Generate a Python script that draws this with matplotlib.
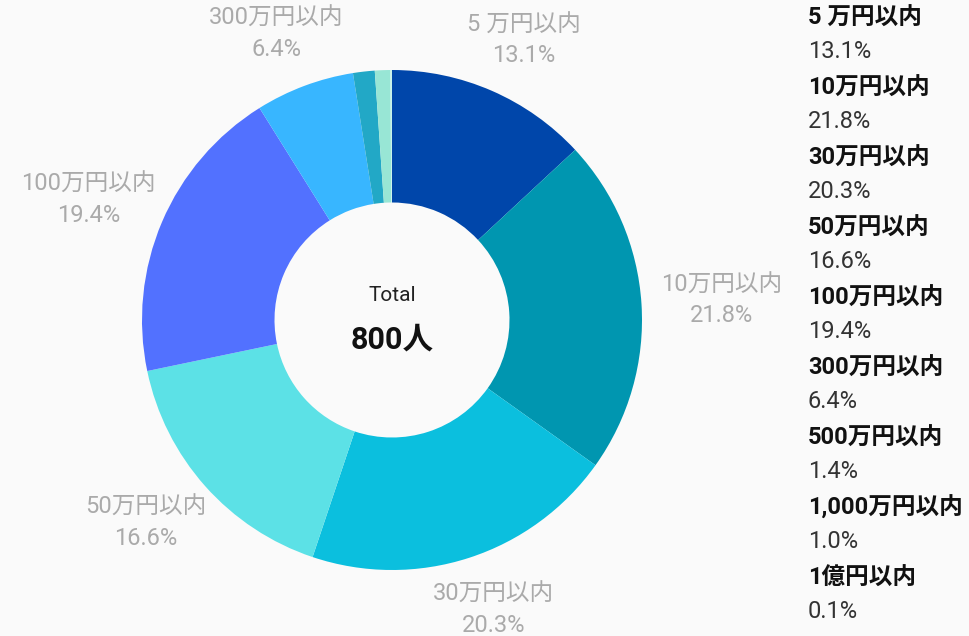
import matplotlib
matplotlib.use('Agg')
import matplotlib.pyplot as plt
import numpy as np

plt.rcParams['font.family'] = ['Roboto', 'Noto Sans CJK JP', 'DejaVu Sans']

# data
categories = ['5 万円以内', '10万円以内', '30万円以内', '50万円以内', '100万円以内',
              '300万円以内', '500万円以内', '1,000万円以内', '1億円以内']
shares = [13.1, 21.8, 20.3, 16.6, 19.4, 6.4, 1.4, 1.0, 0.1]
colors = ['#0046AA', '#0096B0', '#0BBFDE', '#5CE1E6', '#5271FF',
          '#38B6FF', '#22A8C6', '#98E6D5', '#C8F2EA']
n_outside = 6  # only the big slices get an outside label
total_label = '800人'

bg = '#FAFAFA'
fig = plt.figure(figsize=(9.7, 6.36), dpi=100, facecolor=bg)
ax = fig.add_axes([0, 0, 1, 1])
ax.set_facecolor(bg)

wedges, _ = ax.pie(shares, colors=colors, startangle=90, counterclock=False,
                   radius=1.0, wedgeprops=dict(width=0.53, linewidth=0))

ax.set_xlim(-392 / 250, (970 - 392) / 250)
ax.set_ylim(-(636 - 320) / 250, 320 / 250)
ax.set_aspect('equal')
ax.axis('off')

# outside labels, pushed out by half the text box along the slice direction
half_w, half_h = 0.25, 0.15
for i in range(n_outside):
    w = wedges[i]
    ang = np.deg2rad((w.theta1 + w.theta2) / 2)
    c, s = np.cos(ang), np.sin(ang)
    x = 1.07 * c + half_w * c
    y = 1.07 * s + half_h * s
    ax.text(x, y, '%s\n%.1f%%' % (categories[i], shares[i]), ha='center', va='center',
            fontsize=17, color='#AAAAAA', linespacing=1.45)

# centre text
ax.text(0, 0.1, 'Total', ha='center', va='center', fontsize=15, color='#222222')
ax.text(0, -0.08, total_label, ha='center', va='center', fontsize=22,
        fontweight='bold', color='#111111')

# right-hand text legend
for i, (cat, v) in enumerate(zip(categories, shares)):
    ytop = 1 - (18 + 70 * i) / 636
    fig.text(808 / 970, ytop, cat, ha='left', va='center', fontsize=17,
             fontweight='bold', color='#111111')
    fig.text(808 / 970, ytop - 33 / 636, '%.1f%%' % v, ha='left', va='center',
             fontsize=17, color='#333333')

fig.savefig('out.png', dpi=100, facecolor=bg)
